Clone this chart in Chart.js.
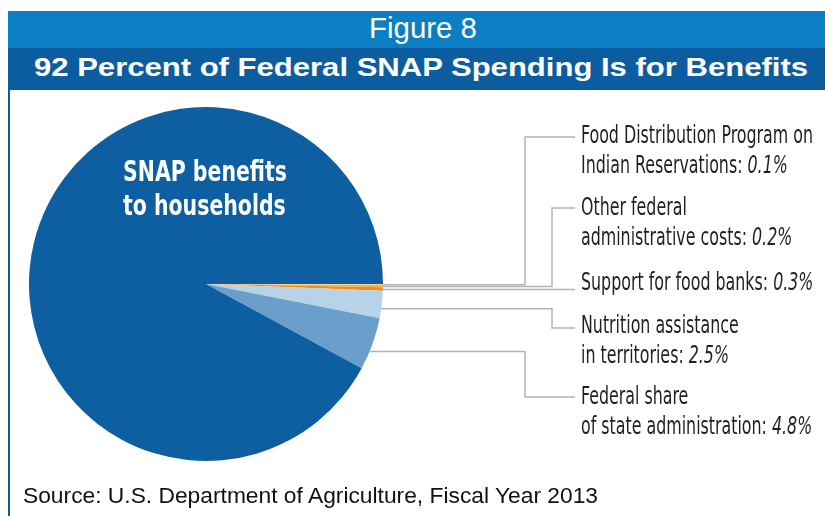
<!DOCTYPE html>
<html>
<head>
<meta charset="utf-8">
<script src="https://cdn.jsdelivr.net/npm/chart.js@4/dist/chart.umd.min.js"></script>
<style>
  html, body { margin: 0; padding: 0; background: #fff; }
  body { width: 825px; height: 516px; position: relative; overflow: hidden; font-family: "Liberation Sans", Arial, sans-serif; }
  .band { position: absolute; left: 8px; right: 0; color: #fff; white-space: nowrap; overflow: hidden; }
  .band-top { top: 11px; height: 37px; background: #0a7fc3; }
  .band-main { top: 48px; height: 42px; background: #0c5da0; }
  .fit { position: absolute; display: inline-block; transform-origin: 0 0; }
  #fig { font-size: 29px; line-height: 29px; left: 361px; top: 3px; }
  #title { font-size: 26px; line-height: 26px; font-weight: bold; left: 26px; top: 6px; }
  #rule { position: absolute; left: 8px; top: 90px; width: 2px; height: 426px; background: #0c5da0; }
  #source { position: absolute; left: 23px; top: 485px; font-size: 22px; line-height: 22px; color: #111; white-space: nowrap; transform-origin: 0 0; }
  #chart { position: absolute; left: 0; top: 0; }
</style>
</head>
<body>
<div class="band band-top"><span id="fig" class="fit">Figure 8</span></div>
<div class="band band-main"><span id="title" class="fit">92 Percent of Federal SNAP Spending Is for Benefits</span></div>
<div id="rule"></div>
<canvas id="chart" width="825" height="516"></canvas>
<div id="source">Source: U.S. Department of Agriculture, Fiscal Year 2013</div>

<script>
// spending shares, percent of federal SNAP spending, FY2013
const categories = [
  'Food Distribution Program on Indian Reservations',
  'Other federal administrative costs',
  'Support for food banks',
  'Nutrition assistance in territories',
  'Federal share of state administration',
  'SNAP benefits to households',
];
const shares = [0.1, 0.2, 0.3, 2.5, 4.8, 92.1];

// how each callout label breaks into lines (value appended to the last line)
const labelLines = [
  ['Food Distribution Program on', 'Indian Reservations: '],
  ['Other federal', 'administrative costs: '],
  ['Support for food banks: '],
  ['Nutrition assistance', 'in territories: '],
  ['Federal share', 'of state administration: '],
];
const innerLabel = ['SNAP benefits', 'to households'];

const sliceColors = ['#f4d49a', '#f7b24a', '#ee8c1c', '#b6d3e8', '#6a9fcb', '#0e5fa2'];

// callout layout: elbow x of the leader, y where the leader meets the text,
// and a nudge of the text relative to that leader end
const callouts = [
  { elbow: 525, y: 137, dy: 0 },
  { elbow: 552, y: 208, dy: 1 },
  { elbow: null, y: null, dy: -6 },
  { elbow: 552, y: 328, dy: -1 },
  { elbow: 525, y: 397, dy: 1 },
];
const textX = 581;
const lineGap = 30;
const labelFont = '"Liberation Sans Narrow", "DejaVu Sans Condensed", "Liberation Sans", sans-serif';

// squeeze a span horizontally to a target width
function fitWidth(el, target) {
  const w = el.getBoundingClientRect().width;
  el.style.transform = 'scaleX(' + (target / w) + ')';
}
fitWidth(document.getElementById('fig'), 108);
fitWidth(document.getElementById('title'), 774);
fitWidth(document.getElementById('source'), 575);

const calloutPlugin = {
  id: 'callouts',
  afterDatasetsDraw(chart) {
    const ctx = chart.ctx;
    const arcs = chart.getDatasetMeta(0).data;
    const cx = arcs[0].x, cy = arcs[0].y;

    ctx.save();
    ctx.font = '24px ' + labelFont;
    const squeeze = 232 / ctx.measureText(labelLines[0][0]).width;

    labelLines.forEach((lines, i) => {
      const arc = arcs[i];
      const a = arc.startAngle + 0.65 * (arc.endAngle - arc.startAngle);
      const r = arc.outerRadius;
      const x0 = cx + r * Math.cos(a);
      const y0 = cy + r * Math.sin(a);
      const c = callouts[i];
      const ty = c.y == null ? y0 : c.y;

      ctx.strokeStyle = '#b2b2b2';
      ctx.lineWidth = 1.5;
      ctx.beginPath();
      ctx.moveTo(x0, y0);
      if (c.elbow != null) {
        ctx.lineTo(c.elbow, y0);
        ctx.lineTo(c.elbow, ty);
      }
      ctx.lineTo(textX - 6, ty);
      ctx.stroke();

      ctx.fillStyle = '#231f20';
      ctx.textBaseline = 'middle';
      lines.forEach((txt, j) => {
        const ly = ty + c.dy + j * lineGap;
        ctx.save();
        ctx.translate(textX, ly);
        ctx.scale(squeeze, 1);
        ctx.font = '24px ' + labelFont;
        ctx.fillText(txt, 0, 0);
        if (j === lines.length - 1) {
          const w = ctx.measureText(txt).width;
          ctx.font = 'italic 24px ' + labelFont;
          ctx.fillText(shares[i] + '%', w, 0);
        }
        ctx.restore();
      });
    });

    // label inside the large slice
    ctx.font = 'bold 28px ' + labelFont;
    const sq2 = 164 / ctx.measureText(innerLabel[0]).width;
    ctx.fillStyle = '#ffffff';
    ctx.textBaseline = 'alphabetic';
    innerLabel.forEach((txt, j) => {
      ctx.save();
      ctx.translate(cx - 83, cy - 103 + j * 34);
      ctx.scale(sq2, 1);
      ctx.fillText(txt, 0, 0);
      ctx.restore();
    });
    ctx.restore();
  },
};

new Chart(document.getElementById('chart'), {
  type: 'pie',
  data: {
    labels: categories,
    datasets: [{
      data: shares,
      backgroundColor: sliceColors,
      borderWidth: 0,
    }],
  },
  options: {
    responsive: false,
    animation: false,
    rotation: 90,
    layout: { padding: { left: 29, top: 107, right: 442, bottom: 55 } },
    plugins: {
      legend: { display: false },
      tooltip: { enabled: false },
    },
  },
  plugins: [calloutPlugin],
});
</script>
</body>
</html>
